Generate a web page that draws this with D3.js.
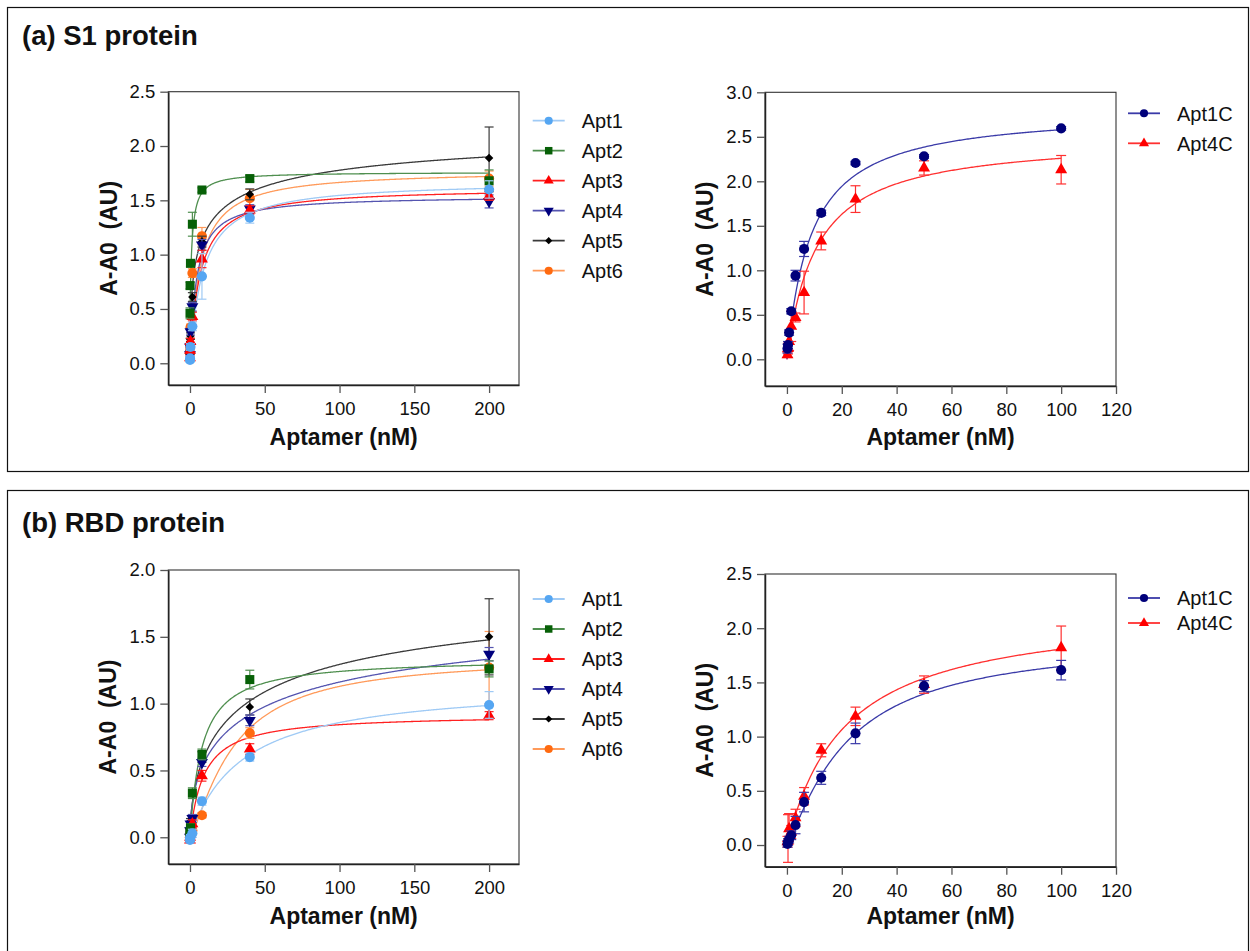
<!DOCTYPE html>
<html><head><meta charset="utf-8">
<script src="https://cdn.jsdelivr.net/npm/d3@7"></script>
<style>
html,body{margin:0;padding:0;background:#fff;}
svg{display:block;font-family:"Liberation Sans",Arial,Helvetica,sans-serif;}
</style></head><body>
<svg id="chart" width="1250" height="951"></svg>
<script>
// ---------------- DATA ----------------
const concLeft  = [0.0128, 0.064, 0.32, 1.6, 8, 40, 200];          // nM
const concRight = [0.195, 0.39, 0.78, 1.5625, 3.125, 6.25, 12.5, 25, 50, 100]; // nM
const namesLeft  = ["Apt1", "Apt2", "Apt3", "Apt4", "Apt5", "Apt6"];
const namesRight = ["Apt1C", "Apt4C"];

const xTicksLeft  = [0, 50, 100, 150, 200];
const xTicksRight = [0, 20, 40, 60, 80, 100, 120];
const yTicksS1Left  = [0, 0.5, 1.0, 1.5, 2.0, 2.5];
const yTicksS1Right = [0, 0.5, 1.0, 1.5, 2.0, 2.5, 3.0];
const yTicksRbdLeft  = [0, 0.5, 1.0, 1.5, 2.0];
const yTicksRbdRight = [0, 0.5, 1.0, 1.5, 2.0, 2.5];

// (a) S1 protein, Apt1..Apt6
const s1LeftValues = [
  [0.03, 0.045, 0.15, 0.34, 0.80, 1.34, 1.60],
  [0.46, 0.715, 0.92, 1.28, 1.595, 1.70, 1.68],
  [0.05, 0.12, 0.20, 0.43, 0.96, 1.41, 1.54],
  [0.08, 0.15, 0.29, 0.52, 1.09, 1.42, 1.49],
  [0.10, 0.20, 0.25, 0.61, 1.12, 1.555, 1.89],
  [0.10, 0.15, 0.33, 0.83, 1.17, 1.52, 1.70]
];
const s1LeftErrors = [
  [0.02, 0.02, 0.03, 0.04, 0.21, 0.05, 0.08],
  [0.05, 0.03, 0.03, 0.11, 0.02, 0.03, 0.10],
  [0.02, 0.03, 0.03, 0.04, 0.08, 0.04, 0.04],
  [0.02, 0.03, 0.03, 0.04, 0.05, 0.04, 0.06],
  [0.02, 0.03, 0.03, 0.04, 0.05, 0.05, 0.285],
  [0.02, 0.03, 0.03, 0.04, 0.08, 0.08, 0.07]
];
const s1LeftFitBmax = [1.68, 1.76, 1.617, 1.543, 2.28, 1.778];
const s1LeftFitKd   = [8.7, 1.36, 6.67, 4.4, 8, 6.8];
const s1LeftFitHill = [1, 1, 1, 1, 0.5, 1];
const s1LeftFitY0   = [0, 0.45, 0, 0, 0, 0];

// (a) S1 protein, Apt1C / Apt4C
const s1RightValues = [
  [0.12, 0.16, 0.30, 0.54, 0.94, 1.24, 1.645, 2.205, 2.28, 2.595],
  [0.05, 0.12, 0.20, 0.37, 0.47, 0.75, 1.33, 1.80, 2.15, 2.13]
];
const s1RightErrors = [
  [0.05, 0.04, 0.03, 0.03, 0.06, 0.085, 0.03, 0.02, 0.02, 0.02],
  [0.03, 0.06, 0.10, 0.17, 0.05, 0.24, 0.10, 0.15, 0.08, 0.16]
];
const s1RightFitBmax = [2.81, 2.50];
const s1RightFitKd   = [8.93, 10.7];
const s1RightFitHill = [1, 1];
const s1RightFitY0   = [0, 0];

// (b) RBD protein, Apt1..Apt6
const rbdLeftValues = [
  [-0.02, -0.01, 0.00, 0.03, 0.27, 0.60, 0.99],
  [0.02, 0.04, 0.07, 0.33, 0.62, 1.18, 1.26],
  [-0.02, 0.00, 0.02, 0.10, 0.46, 0.66, 0.91],
  [0.00, 0.05, 0.10, 0.14, 0.56, 0.875, 1.37],
  [0.00, 0.05, 0.12, 0.14, 0.60, 0.975, 1.50],
  [-0.01, 0.00, 0.03, 0.05, 0.165, 0.78, 1.27]
];
const rbdLeftErrors = [
  [0.02, 0.02, 0.02, 0.03, 0.03, 0.03, 0.10],
  [0.02, 0.02, 0.03, 0.04, 0.04, 0.07, 0.06],
  [0.02, 0.02, 0.02, 0.03, 0.04, 0.04, 0.03],
  [0.02, 0.02, 0.02, 0.03, 0.03, 0.04, 0.05],
  [0.02, 0.02, 0.02, 0.03, 0.04, 0.06, 0.285],
  [0.02, 0.02, 0.02, 0.03, 0.02, 0.04, 0.27]
];
const rbdLeftFitBmax = [1.159, 1.34, 0.92, 1.955, 2.04, 1.355];
const rbdLeftFitKd   = [35, 8, 9.2, 50, 40, 29];
const rbdLeftFitHill = [1, 1, 1, 0.55, 0.6, 1.3];
const rbdLeftFitY0   = [0, 0, 0, 0, 0, 0];

// (b) RBD protein, Apt1C / Apt4C
const rbdRightValues = [
  [0.01, 0.028, 0.05, 0.09, 0.184, 0.396, 0.62, 1.03, 1.466, 1.613],
  [0.03, 0.06, 0.15, 0.12, 0.25, 0.45, 0.874, 1.187, 1.48, 1.82]
];
const rbdRightErrors = [
  [0.03, 0.03, 0.03, 0.04, 0.08, 0.09, 0.06, 0.095, 0.05, 0.09],
  [0.05, 0.22, 0.14, 0.06, 0.08, 0.08, 0.06, 0.085, 0.08, 0.20]
];
const rbdRightFitBmax = [1.915, 2.19];
const rbdRightFitKd   = [22, 21.2];
const rbdRightFitHill = [1.2, 1];
const rbdRightFitY0   = [0, 0];

// ---------------- STYLES ----------------
const leftStyles = [
  {marker: "#55a6f2", line: "#9fcaf5", sym: "circle"},
  {marker: "#076007", line: "#4f8f4f", sym: "square"},
  {marker: "#ff0000", line: "#ff2020", sym: "triangle"},
  {marker: "#00007e", line: "#5555b0", sym: "triangleDown"},
  {marker: "#000000", line: "#3a3a3a", sym: "diamond"},
  {marker: "#ff6a10", line: "#ff9a5a", sym: "circle"}
];
const rightStyles = [
  {marker: "#00007a", line: "#3a3aa8", sym: "circle"},
  {marker: "#ff0000", line: "#ff3030", sym: "triangle"}
];

const svg = d3.select("#chart");
svg.append("rect").attr("width", 1250).attr("height", 951).attr("fill", "#fff");

// panel frames and titles
svg.append("rect").attr("x", 7.5).attr("y", 7.5).attr("width", 1241).attr("height", 464)
  .attr("fill", "none").attr("stroke", "#111").attr("stroke-width", 1.2);
svg.append("rect").attr("x", 7.5).attr("y", 490.5).attr("width", 1241).attr("height", 480)
  .attr("fill", "none").attr("stroke", "#111").attr("stroke-width", 1.2);
svg.append("text").attr("x", 22).attr("y", 45).attr("font-size", 27.5).attr("font-weight", "bold")
  .attr("fill", "#111").text("(a) S1 protein");
svg.append("text").attr("x", 22).attr("y", 532).attr("font-size", 27.5).attr("font-weight", "bold")
  .attr("fill", "#111").text("(b) RBD protein");

function symbolPath(sym, size) {
  if (sym === "circle") return d3.symbol(d3.symbolCircle, size)();
  if (sym === "square") return d3.symbol(d3.symbolSquare, size)();
  if (sym === "triangle") return d3.symbol(d3.symbolTriangle, size)();
  if (sym === "triangleDown") return d3.symbol(d3.symbolTriangle, size)();
  if (sym === "diamond") return d3.symbol(d3.symbolSquare, size)();
}
function symbolRot(sym) {
  if (sym === "triangleDown") return 180;
  if (sym === "diamond") return 45;
  return 0;
}
const markerSize = {circle: 80, square: 82, triangle: 62, triangleDown: 62, diamond: 36};
const legendSize = {circle: 52, square: 56, triangle: 44, triangleDown: 44, diamond: 26};

function hill(x, b, k, n, y0) {
  const xn = Math.pow(x, n);
  return y0 + (b - y0) * xn / (Math.pow(k, n) + xn);
}

function drawPanel(cfg) {
  const [x0, y0, x1, y1] = cfg.box;
  const x = d3.scaleLinear().domain(cfg.xDomain).range([x0, x1]);
  const y = d3.scaleLinear().domain(cfg.yDomain).range([y1, y0]);
  const g = svg.append("g");

  g.append("rect").attr("x", x0).attr("y", y0).attr("width", x1 - x0).attr("height", y1 - y0)
    .attr("fill", "none").attr("stroke", "#333").attr("stroke-width", 1.1);

  const xa = g.append("g").attr("transform", `translate(0,${y1})`)
    .call(d3.axisBottom(x).tickValues(cfg.xTicks).tickSize(8).tickSizeOuter(0).tickPadding(9).tickFormat(d3.format("d")));
  const ya = g.append("g").attr("transform", `translate(${x0},0)`)
    .call(d3.axisLeft(y).tickValues(cfg.yTicks).tickSize(8).tickSizeOuter(0).tickPadding(5).tickFormat(d3.format(".1f")));
  [xa, ya].forEach(a => {
    a.select(".domain").attr("stroke", "#222").attr("stroke-width", 1.5);
    a.selectAll(".tick line").attr("stroke", "#555").attr("stroke-width", 1.3);
    a.selectAll(".tick text").attr("font-size", 18.5).attr("fill", "#111")
      .attr("font-family", '"Liberation Sans",Arial,sans-serif');
  });

  // axis titles
  g.append("text").attr("x", (x0 + x1) / 2).attr("y", cfg.xTitleY).attr("text-anchor", "middle")
    .attr("font-size", 23).attr("font-weight", "bold").attr("fill", "#111").text("Aptamer (nM)");
  g.append("text").attr("transform", `translate(${cfg.yTitleX},${(y0 + y1) / 2}) rotate(-90)`)
    .attr("text-anchor", "middle").attr("font-size", 23).attr("font-weight", "bold").attr("fill", "#111")
    .style("white-space", "pre").text("A-A0  (AU)");

  const xmax = cfg.conc[cfg.conc.length - 1];
  const samples = d3.range(0, 2, 0.02).concat(d3.range(2, xmax, 0.5)).concat([xmax]);
  const line = d3.line().x(d => x(d[0])).y(d => y(d[1]));
  const order = d3.range(cfg.names.length).reverse();

  // fitted curves
  order.forEach(i => {
    const pts = samples.map(s => [s, hill(s, cfg.fitB[i], cfg.fitK[i], cfg.fitN[i], cfg.fitY0[i])]);
    g.append("path").attr("d", line(pts)).attr("fill", "none")
      .attr("stroke", cfg.styles[i].line).attr("stroke-width", 1.3);
  });
  // error bars and markers
  order.forEach(i => {
    const st = cfg.styles[i];
    const gs = g.append("g");
    cfg.values[i].forEach((v, j) => {
      const cx = x(cfg.conc[j]);
      const e = cfg.errors[i][j];
      const yt = y(v + e), yb = y(v - e);
      gs.append("line").attr("x1", cx).attr("x2", cx).attr("y1", yt).attr("y2", yb)
        .attr("stroke", st.line).attr("stroke-width", 1.2);
      [yt, yb].forEach(yy => gs.append("line").attr("x1", cx - cfg.cap).attr("x2", cx + cfg.cap)
        .attr("y1", yy).attr("y2", yy).attr("stroke", st.line).attr("stroke-width", 1.2));
    });
    cfg.values[i].forEach((v, j) => {
      gs.append("path").attr("d", symbolPath(st.sym, markerSize[st.sym]))
        .attr("transform", `translate(${x(cfg.conc[j])},${y(v)}) rotate(${symbolRot(st.sym)})`)
        .attr("fill", st.marker);
    });
  });

  // legend
  cfg.names.forEach((nm, i) => {
    const st = cfg.styles[i];
    const ly = cfg.legend.y + i * cfg.legend.step;
    const lx = cfg.legend.x;
    g.append("line").attr("x1", lx).attr("x2", lx + 32).attr("y1", ly).attr("y2", ly)
      .attr("stroke", st.line).attr("stroke-width", 1.8);
    g.append("path").attr("d", symbolPath(st.sym, legendSize[st.sym]))
      .attr("transform", `translate(${lx + 16},${ly}) rotate(${symbolRot(st.sym)})`).attr("fill", st.marker);
    g.append("text").attr("x", lx + 49).attr("y", ly).attr("dy", "0.36em")
      .attr("font-size", 20).attr("fill", "#111").text(nm);
  });
}

drawPanel({box: [168.3, 91.7, 519, 385], xDomain: [-14.5, 220], yDomain: [-0.2, 2.5],
  xTicks: xTicksLeft, yTicks: yTicksS1Left, conc: concLeft, names: namesLeft, styles: leftStyles,
  values: s1LeftValues, errors: s1LeftErrors, fitB: s1LeftFitBmax, fitK: s1LeftFitKd, fitN: s1LeftFitHill, fitY0: s1LeftFitY0,
  cap: 4.5, legend: {x: 532.7, y: 120.7, step: 30}, xTitleY: 445, yTitleX: 117});
drawPanel({box: [765, 92.3, 1116, 386], xDomain: [-8, 120], yDomain: [-0.3, 3.0],
  xTicks: xTicksRight, yTicks: yTicksS1Right, conc: concRight, names: namesRight, styles: rightStyles,
  values: s1RightValues, errors: s1RightErrors, fitB: s1RightFitBmax, fitK: s1RightFitKd, fitN: s1RightFitHill, fitY0: s1RightFitY0,
  cap: 5, legend: {x: 1128, y: 113.3, step: 30}, xTitleY: 445, yTitleX: 713});
drawPanel({box: [168.3, 570, 519, 864], xDomain: [-14.5, 220], yDomain: [-0.2, 2.0],
  xTicks: xTicksLeft, yTicks: yTicksRbdLeft, conc: concLeft, names: namesLeft, styles: leftStyles,
  values: rbdLeftValues, errors: rbdLeftErrors, fitB: rbdLeftFitBmax, fitK: rbdLeftFitKd, fitN: rbdLeftFitHill, fitY0: rbdLeftFitY0,
  cap: 4.5, legend: {x: 532.7, y: 599, step: 30}, xTitleY: 924, yTitleX: 116});
drawPanel({box: [765, 574, 1116, 866.7], xDomain: [-8, 120], yDomain: [-0.2, 2.5],
  xTicks: xTicksRight, yTicks: yTicksRbdRight, conc: concRight, names: namesRight, styles: rightStyles,
  values: rbdRightValues, errors: rbdRightErrors, fitB: rbdRightFitBmax, fitK: rbdRightFitKd, fitN: rbdRightFitHill, fitY0: rbdRightFitY0,
  cap: 5, legend: {x: 1128, y: 598, step: 25}, xTitleY: 924, yTitleX: 713});
</script>
</body></html>
